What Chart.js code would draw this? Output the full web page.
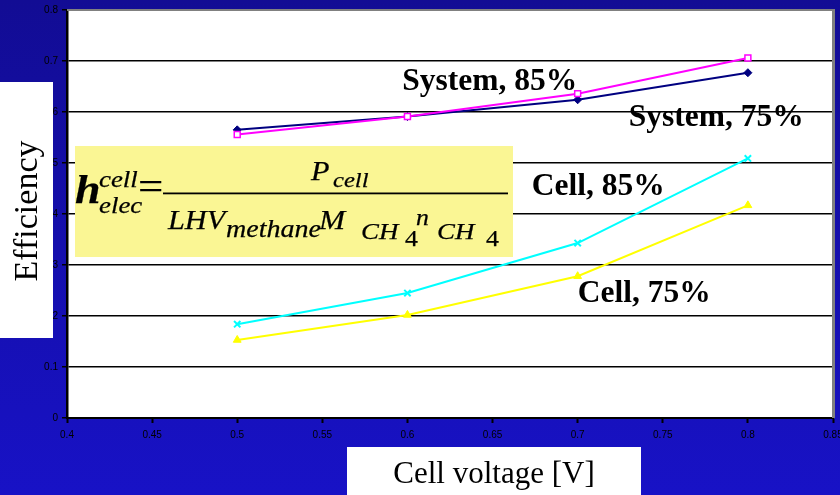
<!DOCTYPE html>
<html>
<head>
<meta charset="utf-8">
<script src="https://cdn.jsdelivr.net/npm/chart.js@4/dist/chart.umd.min.js"></script>
<style>
  html, body { margin: 0; padding: 0; overflow: hidden; background: #1510B0; }
  canvas { display: block; }
</style>
</head>
<body>
<canvas id="chart" width="840" height="495"></canvas>
<script>
// Cell voltage [V] at which efficiency was evaluated
const voltages = [0.5, 0.6, 0.7, 0.8];

// Efficiency per case (fuel utilisation 85 % / 75 %)
const system85 = [0.556, 0.591, 0.636, 0.706];
const system75 = [0.565, 0.591, 0.624, 0.677];
const cell85   = [0.184, 0.245, 0.343, 0.509];
const cell75   = [0.153, 0.202, 0.278, 0.417];

const seriesNames = ['System, 85%', 'System, 75%', 'Cell, 85%', 'Cell, 75%'];

// Axis ticks
const xTickValues = [0.4, 0.45, 0.5, 0.55, 0.6, 0.65, 0.7, 0.75, 0.8, 0.85];
const yTickValues = [0, 0.1, 0.2, 0.3, 0.4, 0.5, 0.6, 0.7, 0.8];

// Where each series caption sits, in axis units (voltage, efficiency)
const captionVoltage    = [0.597, 0.730, 0.673, 0.700];
const captionEfficiency = [0.6425, 0.572, 0.4368, 0.2272];

const SERIF = '"Liberation Serif", "Times New Roman", serif';

function toPoints(ys) {
  return voltages.map((v, i) => ({ x: v, y: ys[i] }));
}

const slidePlugin = {
  id: 'slide',
  beforeDraw(chart) {
    const { ctx, chartArea: a, width, height } = chart;
    ctx.save();
    const g = ctx.createLinearGradient(0, 0, 0, height);
    g.addColorStop(0, '#120C94');
    g.addColorStop(1, '#1812C6');
    ctx.fillStyle = g;
    ctx.fillRect(0, 0, width, height);
    ctx.fillStyle = '#FFFFFF';
    ctx.fillRect(a.left, a.top, a.right - a.left, a.bottom - a.top);
    ctx.restore();
  },
  afterDraw(chart) {
    const { ctx, chartArea: a, scales } = chart;
    ctx.save();

    // plot frame (top and right edges)
    ctx.fillStyle = '#808080';
    ctx.fillRect(a.left, a.top - 1, a.right - a.left + 2, 2);
    ctx.fillRect(a.right - 1, a.top - 1, 3, a.bottom - a.top + 1);

    // series captions
    ctx.fillStyle = '#000000';
    ctx.font = 'bold 31.5px ' + SERIF;
    ctx.textAlign = 'left';
    ctx.textBaseline = 'alphabetic';
    seriesNames.forEach((name, i) => {
      ctx.fillText(name,
        scales.x.getPixelForValue(captionVoltage[i]),
        scales.y.getPixelForValue(captionEfficiency[i]));
    });

    // efficiency definition
    ctx.fillStyle = '#FAF694';
    ctx.fillRect(75, 146, 438, 111);
    ctx.fillStyle = '#000000';
    ctx.strokeStyle = '#000000';
    ctx.lineWidth = 0.25;
    const piece = (txt, x, y, font) => {
      ctx.save();
      ctx.font = font;
      ctx.translate(x, y);
      ctx.scale(1.12, 1);
      ctx.fillText(txt, 0, 0);
      ctx.strokeText(txt, 0, 0);
      ctx.restore();
    };
    piece('h', 75, 203, 'bold italic 41px ' + SERIF);
    piece('cell', 99, 187, 'italic 24px ' + SERIF);
    piece('elec', 99, 213, 'italic 24px ' + SERIF);
    piece('=', 138, 200, '40px ' + SERIF);
    ctx.fillRect(163, 192.5, 345, 1.8);
    piece('P', 311, 180, 'italic 27px ' + SERIF);
    piece('cell', 333, 187, 'italic 22px ' + SERIF);
    piece('LHV', 168, 229, 'italic 27px ' + SERIF);
    piece('methane', 226, 237, 'italic 25px ' + SERIF);
    piece('M', 319, 229, 'italic 28px ' + SERIF);
    piece('CH', 361, 239, 'italic 24px ' + SERIF);
    piece('4', 405, 246, '23px ' + SERIF);
    piece('n', 416, 225, 'italic 23px ' + SERIF);
    piece('CH', 437, 239, 'italic 24px ' + SERIF);
    piece('4', 486, 246, '23px ' + SERIF);

    // axis titles on white panels
    ctx.fillStyle = '#FFFFFF';
    ctx.fillRect(0, 82, 53, 256);
    ctx.fillRect(347, 447, 294, 48);
    ctx.fillStyle = '#000000';
    ctx.font = '31px ' + SERIF;
    ctx.textAlign = 'center';
    ctx.fillText('Cell voltage [V]', 494, 483);
    ctx.save();
    ctx.translate(37, 211);
    ctx.rotate(-Math.PI / 2);
    ctx.font = '34px ' + SERIF;
    ctx.fillText('Efficiency', 0, 0);
    ctx.restore();

    ctx.restore();
  }
};

const fmt = v => String(Number(v.toFixed(2)));

new Chart(document.getElementById('chart'), {
  type: 'line',
  data: {
    datasets: [
      {
        label: seriesNames[0], data: toPoints(system85),
        borderColor: '#FF00FF', backgroundColor: '#FFFFFF',
        pointStyle: 'rect', pointRadius: 4.2, pointBorderWidth: 1.5,
        pointBorderColor: '#FF00FF', borderWidth: 2
      },
      {
        label: seriesNames[1], data: toPoints(system75),
        borderColor: '#000080', backgroundColor: '#000080',
        pointStyle: 'rectRot', pointRadius: 4, pointBorderWidth: 1,
        pointBorderColor: '#000080', borderWidth: 2
      },
      {
        label: seriesNames[2], data: toPoints(cell85),
        borderColor: '#00FFFF', backgroundColor: '#00FFFF',
        pointStyle: 'crossRot', pointRadius: 4.5, pointBorderWidth: 2,
        pointBorderColor: '#00FFFF', borderWidth: 2
      },
      {
        label: seriesNames[3], data: toPoints(cell75),
        borderColor: '#FFFF00', backgroundColor: '#FFFF00',
        pointStyle: 'triangle', pointRadius: 4.5, pointBorderWidth: 1,
        pointBorderColor: '#FFFF00', borderWidth: 2
      }
    ]
  },
  options: {
    responsive: false,
    animation: false,
    devicePixelRatio: 1,
    layout: { padding: { top: 10, right: 7, left: 0, bottom: 0 } },
    plugins: { legend: { display: false }, tooltip: { enabled: false } },
    elements: { line: { tension: 0 } },
    scales: {
      x: {
        type: 'linear', min: 0.4, max: 0.85,
        afterBuildTicks: s => { s.ticks = xTickValues.map(v => ({ value: v })); },
        afterFit: s => { s.height = 77; s.paddingLeft = 0; s.paddingRight = 0; },
        ticks: {
          callback: v => fmt(v), color: '#000000', padding: 6,
          font: { family: 'Arial, "Liberation Sans", sans-serif', size: 10 },
          maxRotation: 0, autoSkip: false
        },
        grid: { drawOnChartArea: false, drawTicks: true, tickLength: 5, tickColor: '#000000', tickWidth: 2 },
        border: { color: '#000000', width: 2 }
      },
      y: {
        type: 'linear', min: 0, max: 0.8,
        afterBuildTicks: s => { s.ticks = yTickValues.map(v => ({ value: v })); },
        afterFit: s => { s.width = 67; s.paddingTop = 0; s.paddingBottom = 0; },
        ticks: {
          callback: v => fmt(v), color: '#000000', padding: 4,
          font: { family: 'Arial, "Liberation Sans", sans-serif', size: 10 },
          autoSkip: false
        },
        grid: {
          color: c => (c.tick && c.tick.value === 0.8) ? '#808080' : '#000000',
          lineWidth: 1.5, tickLength: 5, tickColor: '#000000', tickWidth: 1.5
        },
        border: { color: '#000000', width: 2.5 }
      }
    }
  },
  plugins: [slidePlugin]
});
</script>
</body>
</html>
